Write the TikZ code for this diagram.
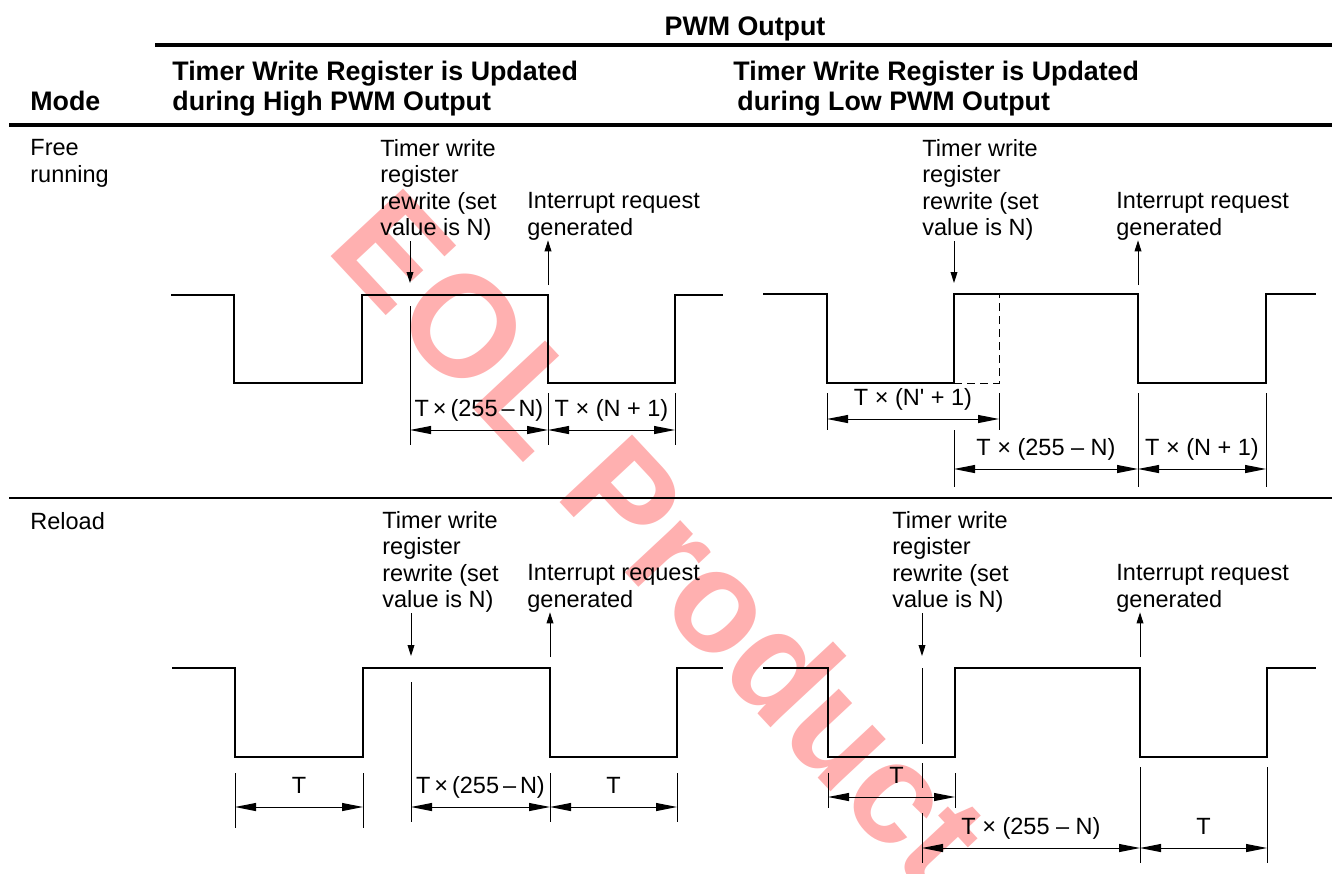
\documentclass[tikz,border=0pt]{standalone}
\usepackage{fontspec}
\setmainfont{Liberation Sans}
\usetikzlibrary{arrows.meta,positioning}
\definecolor{wmred}{RGB}{255,176,176}
\tikzset{
  >={Triangle[length=10.5pt,width=4pt]},
  wave/.style   ={line width=0.8pt, line join=miter},
  ext/.style    ={line width=0.5pt},
  dimline/.style={<->, line width=0.5pt},
  evt/.style    ={-{Triangle[length=5.5pt,width=3.4pt]}, line width=0.5pt},
  rule/.style   ={line width=2pt},
  sep/.style    ={line width=0.8pt},
  hdr/.style    ={font=\fontsize{13.4}{15}\selectfont\bfseries, inner sep=0pt, anchor=base west},
  txt/.style    ={font=\fontsize{11.75}{13.25}\selectfont, align=left, anchor=north west, inner sep=0pt},
  lbl/.style    ={font=\fontsize{11.75}{13.25}\selectfont, anchor=base, inner sep=0pt, yshift=7pt},
  wm/.style     ={font=\fontsize{72}{72}\selectfont\bfseries, text=wmred, inner sep=0pt},
}

\begin{document}
\begin{tikzpicture}[x=0.5pt,y=-0.5pt]
  \useasboundingbox (0,0) rectangle (1332,873);
  \node[wm, rotate=-47] (eol) at (662,536) {EOL Product};

  % table head
  \node[hdr, anchor=base] (pwm) at (745,35) {PWM Output};
  \draw[rule] (155,45) -- (1332,45);
  \node[hdr] (hhi1) at (172,80) {Timer Write Register is Updated};
  \node[hdr] (hhi2) at (172,110) {during High PWM Output};
  \node[hdr] (hlo1) at (733,80) {Timer Write Register is Updated};
  \node[hdr] (hlo2) at (737,110) {during Low PWM Output};
  \node[hdr] (mode) at (30,110) {Mode};
  \draw[rule] (9,125) -- (1332,125);
  \draw[sep] (9,498) -- (1332,498);
  \node[txt] (free) at (30,139) {Free\\running};
  \node[txt] (reload) at (30,512) {Reload};

  % free running, high
  \draw[wave] (171,295) -| (234,383) -| (362,295) -| (548,383) -| (675,295) -- (723,295);
  \node[txt] (aw) at (380,139) {Timer write\\register\\rewrite (set\\value is N)};
  \node[txt] (ai) at (527,192) {Interrupt request\\generated};
  \coordinate (aW) at (410,283);
  \coordinate (aI) at (548,285);
  \draw[evt] (aw.south -| aW) -- (aW);
  \draw[evt] (aI) -- (ai.south -| aI);
  \draw[ext] (410,306) -- (410,445);
  \draw[ext] (548,393) -- (548,445);
  \draw[ext] (675,393) -- (675,445);
  \coordinate (a1) at (410,430);
  \coordinate (a2) at (548,430);
  \coordinate (a3) at (675,430);
  \draw[dimline] (a1) -- node[lbl] (a12) {T\,×\,(255\,–\,N)} (a2);
  \draw[dimline] (a2) -- node[lbl] (a23) {T × (N + 1)} (a3);

  % free running, low
  \draw[wave] (763,294) -| (827,383) -| (954,294) -| (1138,383) -| (1266,294) -- (1316,294);
  \draw[ext, dashed, dash pattern=on 4pt off 2.5pt] (954,383) -| (999,294);
  \node[txt] (bw) at (922,139) {Timer write\\register\\rewrite (set\\value is N)};
  \node[txt] (bi) at (1116,192) {Interrupt request\\generated};
  \coordinate (bW) at (954,283);
  \coordinate (bI) at (1138,285);
  \draw[evt] (bw.south -| bW) -- (bW);
  \draw[evt] (bI) -- (bi.south -| bI);
  \draw[ext] (827,393) -- (827,430);
  \draw[ext] (999,393) -- (999,430);
  \draw[ext] (954,430) -- (954,487);
  \draw[ext] (1138,393) -- (1138,487);
  \draw[ext] (1266,393) -- (1266,487);
  \coordinate (b1) at (827,419);
  \coordinate (b2) at (999,419);
  \coordinate (b3) at (954,469);
  \coordinate (b4) at (1138,469);
  \coordinate (b5) at (1266,469);
  \draw[dimline] (b1) -- node[lbl] (b12) {T × (N\textquotesingle{} + 1)} (b2);
  \draw[dimline] (b3) -- node[lbl] (b34) {T × (255 – N)} (b4);
  \draw[dimline] (b4) -- node[lbl] (b45) {T × (N + 1)} (b5);

  % reload, high
  \draw[wave] (172,668) -| (235,757) -| (363,668) -| (550,757) -| (677,668) -- (723,668);
  \node[txt] (cw) at (382,511) {Timer write\\register\\rewrite (set\\value is N)};
  \node[txt] (ci) at (527,564) {Interrupt request\\generated};
  \coordinate (cW) at (411,656);
  \coordinate (cI) at (550,657);
  \draw[evt] (cw.south -| cW) -- (cW);
  \draw[evt] (cI) -- (ci.south -| cI);
  \draw[ext] (411,682) -- (411,822);
  \draw[ext] (235,773) -- (235,828);
  \draw[ext] (363,773) -- (363,828);
  \draw[ext] (550,773) -- (550,822);
  \draw[ext] (677,773) -- (677,822);
  \coordinate (c1) at (235,807);
  \coordinate (c2) at (363,807);
  \coordinate (c3) at (411,807);
  \coordinate (c4) at (550,807);
  \coordinate (c5) at (677,807);
  \draw[dimline] (c1) -- node[lbl] (c12) {T} (c2);
  \draw[dimline] (c3) -- node[lbl] (c34) {T\,×\,(255\,–\,N)} (c4);
  \draw[dimline] (c4) -- node[lbl] (c45) {T} (c5);

  % reload, low
  \draw[wave] (763,668) -| (828,757) -| (955,668) -| (1140,757) -| (1267,668) -- (1316,668);
  \node[txt] (dw) at (892,511) {Timer write\\register\\rewrite (set\\value is N)};
  \node[txt] (di) at (1116,564) {Interrupt request\\generated};
  \coordinate (dW) at (922,656);
  \coordinate (dI) at (1140,657);
  \draw[evt] (dw.south -| dW) -- (dW);
  \draw[evt] (dI) -- (di.south -| dI);
  \draw[ext] (922,668) -- (922,744);
  \draw[ext] (922,763) -- (922,788);
  \draw[ext] (922,813) -- (922,863);
  \draw[ext] (828,773) -- (828,808);
  \draw[ext] (955,773) -- (955,808);
  \draw[ext] (1140,767) -- (1140,863);
  \draw[ext] (1267,767) -- (1267,863);
  \coordinate (d1) at (828,797);
  \coordinate (d2) at (955,797);
  \coordinate (d3) at (922,848);
  \coordinate (d4) at (1140,848);
  \coordinate (d5) at (1267,848);
  \draw[dimline] (d1) -- node[lbl, xshift=2.5pt] (d12) {T} (d2);
  \draw[dimline] (d3) -- node[lbl] (d34) {T × (255 – N)} (d4);
  \draw[dimline] (d4) -- node[lbl] (d45) {T} (d5);
\end{tikzpicture}
\end{document}
